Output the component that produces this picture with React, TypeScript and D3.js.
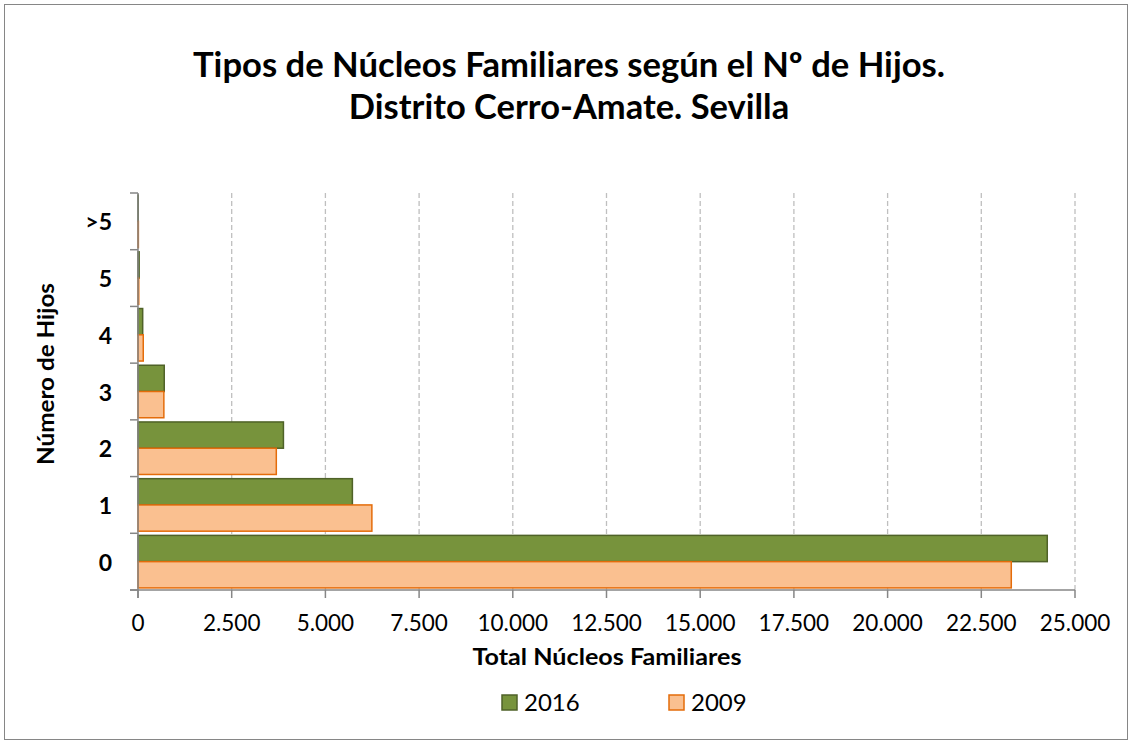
import React, { useEffect, useRef } from "react";
import * as d3 from "d3";

const categories = ["0", "1", "2", "3", "4", "5", ">5"];
const values2016 = [24260, 5720, 3880, 700, 125, 30, 5];
const values2009 = [23300, 6240, 3690, 690, 140, 20, 10];
const xTicks = [0, 2500, 5000, 7500, 10000, 12500, 15000, 17500, 20000, 22500, 25000];
const seriesNames = ["2016", "2009"];

const W = 1132;
const H = 743;
const FONT = "Lato, 'Open Sans', sans-serif";

function App() {
  const svgRef = useRef(null);

  useEffect(() => {
    document.body.style.margin = "0";
    const svg = d3.select(svgRef.current);
    svg.selectAll("*").remove();

    const left = 138, right = 1075, top = 193, bottom = 590;

    const x = d3.scaleLinear().domain([0, 25000]).range([left, right]);
    // first category at the bottom
    const y = d3.scaleBand().domain(categories.slice().reverse()).range([top, bottom]).paddingInner(0).paddingOuter(0);
    const inner = d3.scaleBand().domain(seriesNames).range([0, y.bandwidth()]).paddingOuter(0.08).paddingInner(0);

    const fmt = (v) => d3.format(",")(v).replace(/,/g, ".");

    // frame
    svg.append("rect")
      .attr("x", 4.5).attr("y", 4.5).attr("width", W - 9).attr("height", H - 8)
      .attr("fill", "white").attr("stroke", "#868686").attr("stroke-width", 1);

    // title
    const title = svg.append("text")
      .attr("text-anchor", "middle")
      .attr("font-family", FONT).attr("font-weight", "bold").attr("font-size", 34.5)
      .attr("fill", "#000");
    title.append("tspan").attr("x", 569).attr("y", 77)
      .attr("textLength", 752).attr("lengthAdjust", "spacingAndGlyphs")
      .text("Tipos de Núcleos Familiares según el Nº de Hijos.");
    title.append("tspan").attr("x", 569).attr("y", 119)
      .text("Distrito Cerro-Amate. Sevilla");

    // gridlines
    svg.append("g").selectAll("line")
      .data(xTicks.slice(1))
      .join("line")
      .attr("x1", d => x(d)).attr("x2", d => x(d))
      .attr("y1", top).attr("y2", bottom)
      .attr("stroke", "#bfbfbf").attr("stroke-width", 1.3)
      .attr("stroke-dasharray", "5,3");

    // bars
    const groups = svg.append("g").selectAll("g")
      .data(categories)
      .join("g")
      .attr("transform", d => `translate(0,${y(d)})`);

    groups.append("rect")
      .attr("x", x(0))
      .attr("y", inner("2016"))
      .attr("width", (d, i) => x(values2016[i]) - x(0))
      .attr("height", inner.bandwidth())
      .attr("fill", "#77933C").attr("stroke", "#4F6228").attr("stroke-width", 1.5);

    groups.append("rect")
      .attr("x", x(0))
      .attr("y", inner("2009"))
      .attr("width", (d, i) => x(values2009[i]) - x(0))
      .attr("height", inner.bandwidth())
      .attr("fill", "#FAC090").attr("stroke", "#E46C0A").attr("stroke-width", 1.5);

    // axes
    const axisColor = "#868686";
    svg.append("line").attr("x1", left).attr("x2", left).attr("y1", top).attr("y2", bottom + 8)
      .attr("stroke", axisColor).attr("stroke-width", 1.5);
    svg.append("line").attr("x1", left - 8).attr("x2", right).attr("y1", bottom).attr("y2", bottom)
      .attr("stroke", axisColor).attr("stroke-width", 1.5);

    const yEdges = categories.map(c => y(c)).concat([bottom]);
    svg.append("g").selectAll("line")
      .data(yEdges)
      .join("line")
      .attr("x1", left - 8).attr("x2", left)
      .attr("y1", d => d).attr("y2", d => d)
      .attr("stroke", axisColor).attr("stroke-width", 1.5);

    svg.append("g").selectAll("line")
      .data(xTicks)
      .join("line")
      .attr("x1", d => x(d)).attr("x2", d => x(d))
      .attr("y1", bottom).attr("y2", bottom + 8)
      .attr("stroke", axisColor).attr("stroke-width", 1.5);

    svg.append("g").selectAll("text")
      .data(xTicks)
      .join("text")
      .attr("x", d => x(d)).attr("y", 631)
      .attr("text-anchor", "middle")
      .attr("font-family", FONT).attr("font-size", 22.5)
      .text(d => fmt(d));

    svg.append("g").selectAll("text")
      .data(categories)
      .join("text")
      .attr("x", 112).attr("y", d => y(d) + y.bandwidth() / 2 + 9)
      .attr("text-anchor", "end")
      .attr("font-family", FONT).attr("font-weight", "bold").attr("font-size", 23)
      .text(d => d);

    // axis titles
    svg.append("text")
      .attr("x", 607).attr("y", 665)
      .attr("text-anchor", "middle")
      .attr("font-family", FONT).attr("font-weight", "bold").attr("font-size", 23)
      .attr("textLength", 269).attr("lengthAdjust", "spacingAndGlyphs")
      .text("Total Núcleos Familiares");

    svg.append("text")
      .attr("transform", `translate(54,374) rotate(-90)`)
      .attr("text-anchor", "middle")
      .attr("font-family", FONT).attr("font-weight", "bold").attr("font-size", 23)
      .attr("textLength", 182).attr("lengthAdjust", "spacingAndGlyphs")
      .text("Número de Hijos");

    // legend
    const legend = [
      { name: "2016", fill: "#77933C", stroke: "#4F6228", x: 502 },
      { name: "2009", fill: "#FAC090", stroke: "#E46C0A", x: 669 },
    ];
    const lg = svg.append("g").selectAll("g").data(legend).join("g");
    lg.append("rect")
      .attr("x", d => d.x).attr("y", 695).attr("width", 15).attr("height", 15)
      .attr("fill", d => d.fill).attr("stroke", d => d.stroke).attr("stroke-width", 1.5);
    lg.append("text")
      .attr("x", d => d.x + 22).attr("y", 711)
      .attr("font-family", FONT).attr("font-size", 24)
      .text(d => d.name);
  }, []);

  return <svg ref={svgRef} width={W} height={H} style={{ display: "block", background: "white" }} />;
}

export default App;
